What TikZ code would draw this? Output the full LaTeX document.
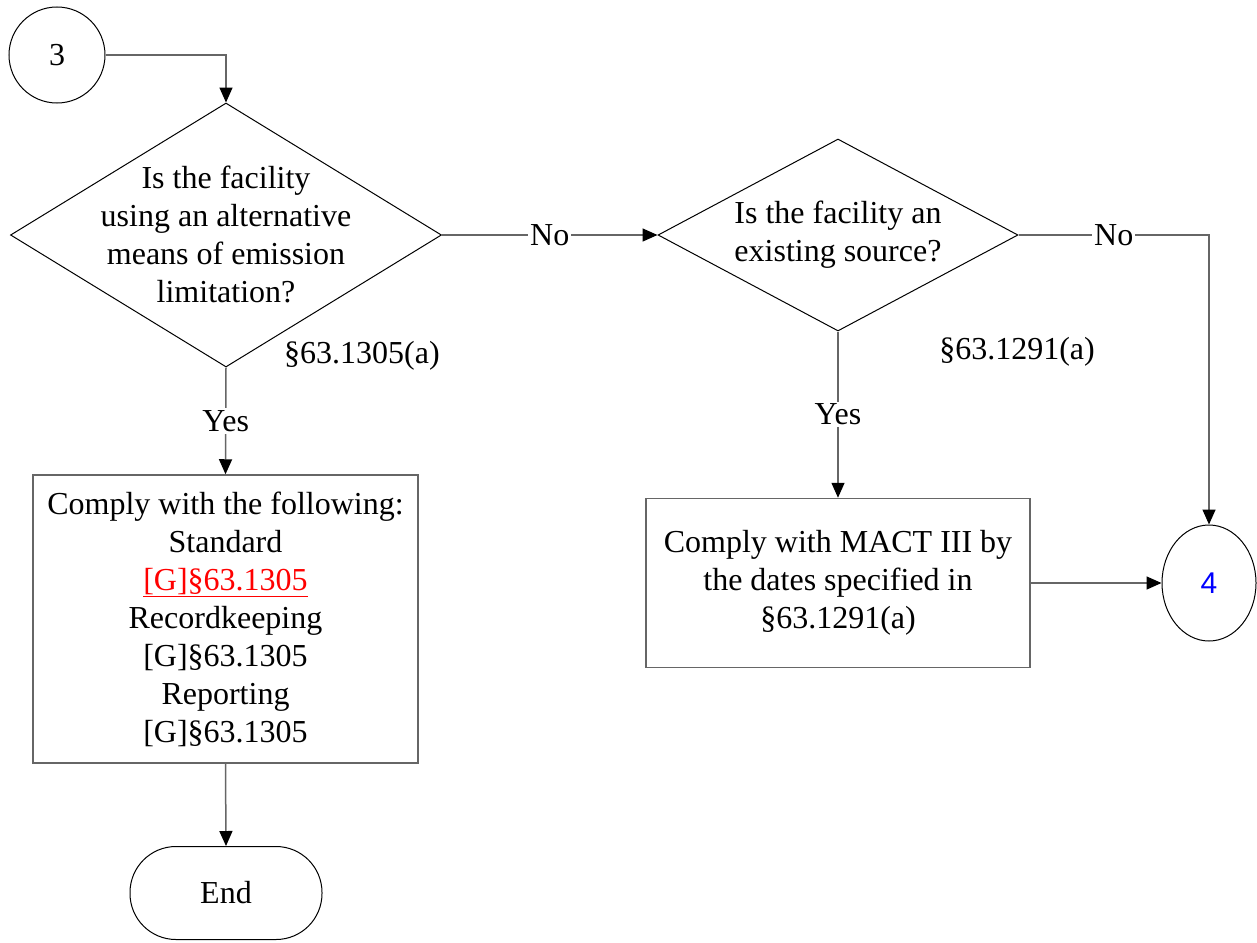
\documentclass[tikz,border=0pt]{standalone}
\usepackage{fontspec}
\setmainfont{Liberation Serif}
\newfontfamily\arialfont{Liberation Sans}
\usetikzlibrary{shapes.geometric,arrows.meta}
\begin{document}
\begin{tikzpicture}[x=1pt,y=-1pt,
  every node/.style={font=\fontsize{32}{38}\selectfont},
  conn/.style={draw=black!60, line width=1.5pt},
  arr/.style={conn, -{Triangle[length=15pt,width=13pt,color=black]}},
  dec/.style={diamond, draw=black, line width=1pt, inner sep=0pt},
  box/.style={rectangle, draw=black!60, line width=1.5pt, align=center, inner sep=0pt},
  conn2/.style={draw=black, line width=1pt, inner sep=0pt},
  lbl/.style={fill=white, inner sep=2pt},
]
\useasboundingbox (0,0) rectangle (1257,942);

\node[conn2, circle, minimum size=96pt] (c3) at (57,55) {3};
\node[dec, minimum width=431pt, minimum height=264pt] (d1) at (226,235) {};
\node[align=center] (t1) at (226,234) {Is the facility\\using an alternative\\means of emission\\limitation?};
\node (r1) at (362,356) {§63.1305(a)};
\node[box, minimum width=385pt, minimum height=288pt] (b1) at (225.5,619) {Comply with the following:\\Standard\\\textcolor{red}{\underline{[G]§63.1305}}\\Recordkeeping\\{}[G]§63.1305\\Reporting\\{}[G]§63.1305};
\node[conn2, rectangle, rounded corners=46pt, minimum width=192pt, minimum height=93pt] (end) at (226,893) {End};

\node[dec, minimum width=360pt, minimum height=192pt] (d2) at (838,235) {};
\node[align=center] (t2) at (838,235) {Is the facility an\\existing source?};
\node (r2) at (1017,352) {§63.1291(a)};
\node[box, minimum width=384pt, minimum height=169pt] (b2) at (838,583) {Comply with MACT III by\\the dates specified in\\§63.1291(a)};
\node[conn2, ellipse, minimum width=94pt, minimum height=116pt, text=blue, font=\arialfont\fontsize{30}{36}\selectfont] (c4) at (1209,583) {4};
\coordinate (k) at (1209,235);

\draw[arr] (c3.east) -| (d1.north);
\draw[arr] (d1.south) -- node[lbl]{Yes} (b1.north);
\draw[arr] (b1.south) -- (end.north);
\draw[arr] (d1.east) -- node[lbl]{No} (d2.west);
\draw[arr] (d2.south) -- node[lbl]{Yes} (b2.north);
\draw[arr] (d2.east) -- node[lbl]{No} (k) -- (c4.north);
\draw[arr] (b2.east) -- (c4.west);
\end{tikzpicture}
\end{document}
